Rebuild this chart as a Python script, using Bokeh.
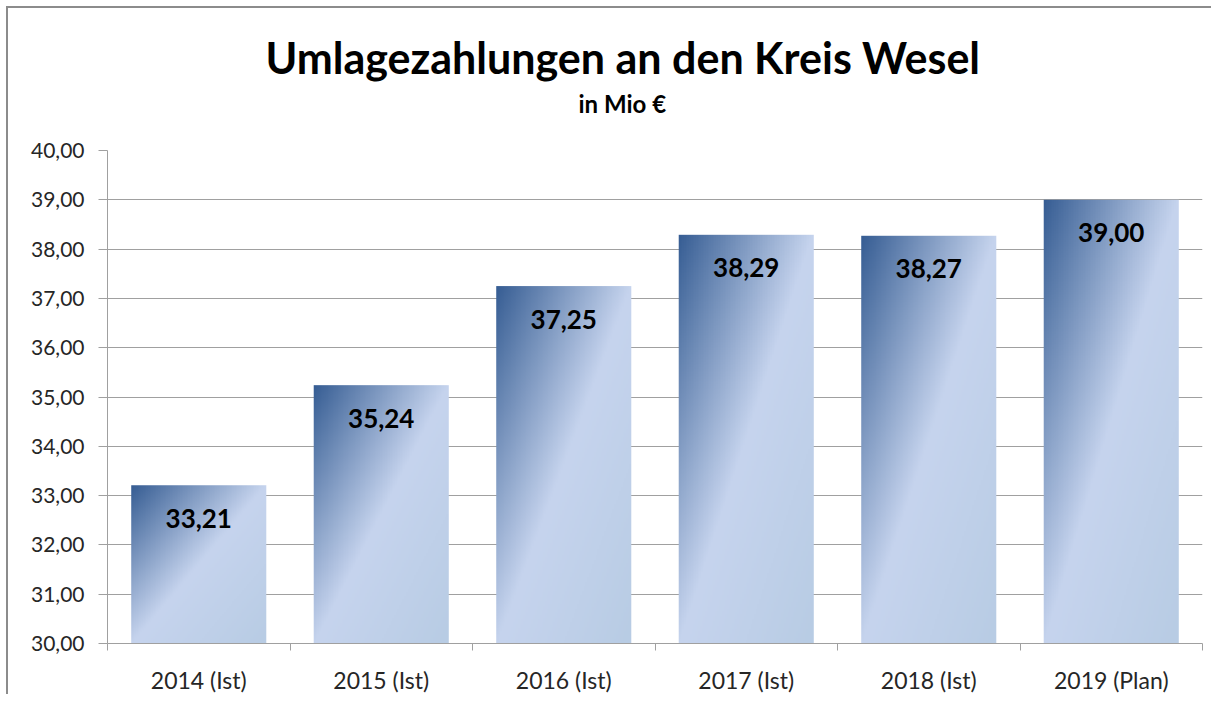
import numpy as np
from bokeh.plotting import figure
from bokeh.models import FixedTicker, Range1d, Title, ColumnDataSource
from bokeh.core.properties import value
from bokeh.embed import file_html
from bokeh.resources import INLINE

# ---- data ----
categories = ["2014 (Ist)", "2015 (Ist)", "2016 (Ist)", "2017 (Ist)", "2018 (Ist)", "2019 (Plan)"]
values = [33.21, 35.24, 37.25, 38.29, 38.27, 39.00]
y_ticks = [30, 31, 32, 33, 34, 35, 36, 37, 38, 39, 40]
title_text = "Umlagezahlungen an den Kreis Wesel"
subtitle_text = "in Mio €"

y_min, y_max = 30, 40
bar_width = 0.74
FONT = "Lato"

p = figure(width=1205, height=688, output_backend="svg", toolbar_location=None,
           x_range=Range1d(0, len(categories)), y_range=Range1d(y_min, y_max),
           min_border_left=99, min_border_right=11, min_border_top=142, min_border_bottom=53,
           background_fill_color="white", border_fill_color="white")
p.outline_line_color = None
p.styles = {"border-top": "2px solid #8c8c8c", "border-left": "2px solid #8c8c8c",
            "margin-top": "6px", "margin-left": "6px"}

# titles (a blank title acts as a spacer between the frame and the subtitle)
spacer = Title(text=" ", text_font=FONT, text_font_size="12px", standoff=12)
p.add_layout(spacer, "above")
sub = Title(text=subtitle_text, align="left", offset=471, text_font=FONT,
            text_font_size="24px", text_font_style="bold", text_color="black",
            standoff=8)
p.add_layout(sub, "above")
main = Title(text=title_text, align="left", offset=158, text_font=FONT,
             text_font_size="43px", text_font_style="bold", text_color="black",
             standoff=0)
p.add_layout(main, "above")

# gradient bars
def gradient_image(nx=80, ny=240):
    cols = np.linspace(0, 1, nx)
    rows = np.linspace(1, 0, ny)  # row 0 = bottom -> v_top = 1
    u, v = np.meshgrid(cols, rows)
    t = (u + v) / 2.0
    stops_t = [0.0, 0.5, 1.0]
    c0 = np.array([55, 94, 148])
    c1 = np.array([198, 212, 238])
    c2 = np.array([184, 204, 228])
    out = np.zeros((ny, nx, 4), dtype=np.uint8)
    for ch in range(3):
        out[..., ch] = np.interp(t, stops_t, [c0[ch], c1[ch], c2[ch]]).astype(np.uint8)
    out[..., 3] = 255
    return out.view(dtype=np.uint32).reshape((ny, nx))

xs = [i + 0.5 for i in range(len(categories))]
imgs = [gradient_image() for _ in values]
p.image_rgba(image=imgs, x=[x - bar_width / 2 for x in xs], y=[y_min] * len(values),
             dw=[bar_width] * len(values), dh=[v - y_min for v in values])

# value labels
src = ColumnDataSource(dict(x=xs, y=values, t=[f"{v:.2f}".replace(".", ",") for v in values]))
p.text(x="x", y="y", text="t", source=src, y_offset=33, text_align="center",
       text_baseline="middle", text_font=value(FONT), text_font_size="26px",
       text_font_style="bold", text_color="black")

# axes
GRAY = "#a0a0a0"
xa = p.xaxis[0]
xa.ticker = FixedTicker(ticks=xs, minor_ticks=list(range(len(categories) + 1)))
xa.major_label_overrides = {x: c for x, c in zip(xs, categories)}
xa.major_tick_line_color = None
xa.minor_tick_in = 0
xa.minor_tick_out = 7
xa.minor_tick_line_color = GRAY
xa.axis_line_color = GRAY
xa.major_label_standoff = 15
xa.major_label_text_font = FONT
xa.major_label_text_font_size = "23px"
xa.major_label_text_color = "#262626"

ya = p.yaxis[0]
ya.ticker = FixedTicker(ticks=y_ticks)
ya.major_label_overrides = {t: f"{t:.2f}".replace(".", ",") for t in y_ticks}
ya.major_tick_in = 0
ya.major_tick_out = 9
ya.major_tick_line_color = GRAY
ya.minor_tick_line_color = None
ya.axis_line_color = GRAY
ya.major_label_standoff = 14
ya.major_label_text_font = FONT
ya.major_label_text_font_size = "21px"
ya.major_label_text_color = "#262626"

p.xgrid.grid_line_color = None
p.ygrid.grid_line_color = GRAY
p.ygrid.grid_line_width = 1

open("out.html", "w").write(file_html(p, INLINE))
